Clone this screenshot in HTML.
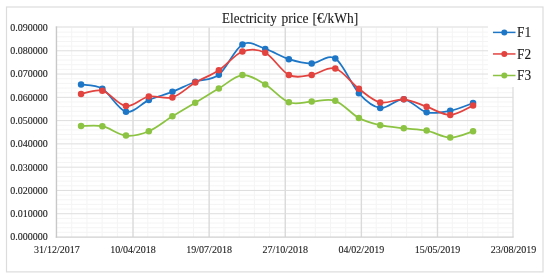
<!DOCTYPE html><html><head><meta charset="utf-8"><style>html,body{margin:0;padding:0;background:#fff;width:550px;height:279px;overflow:hidden}svg{display:block;filter:blur(0.3px)}</style></head><body><svg width="550" height="279" viewBox="0 0 550 279">
<rect width="550" height="279" fill="#fff"/>
<rect x="6.5" y="7.0" width="536.5" height="264.9" fill="none" stroke="#dcdcdc" stroke-width="1.2"/>
<path d="M71.72 27.5V237.0M86.95 27.5V237.0M102.17 27.5V237.0M117.39 27.5V237.0M147.84 27.5V237.0M163.06 27.5V237.0M178.29 27.5V237.0M193.51 27.5V237.0M223.96 27.5V237.0M239.18 27.5V237.0M254.40 27.5V237.0M269.63 27.5V237.0M300.07 27.5V237.0M315.30 27.5V237.0M330.52 27.5V237.0M345.74 27.5V237.0M376.19 27.5V237.0M391.41 27.5V237.0M406.64 27.5V237.0M421.86 27.5V237.0M452.31 27.5V237.0M467.53 27.5V237.0M482.75 27.5V237.0M497.98 27.5V237.0M56.5 232.34H513.2M56.5 227.69H513.2M56.5 223.03H513.2M56.5 218.38H513.2M56.5 209.07H513.2M56.5 204.41H513.2M56.5 199.76H513.2M56.5 195.10H513.2M56.5 185.79H513.2M56.5 181.13H513.2M56.5 176.48H513.2M56.5 171.82H513.2M56.5 162.51H513.2M56.5 157.86H513.2M56.5 153.20H513.2M56.5 148.54H513.2M56.5 139.23H513.2M56.5 134.58H513.2M56.5 129.92H513.2M56.5 125.27H513.2M56.5 115.96H513.2M56.5 111.30H513.2M56.5 106.64H513.2M56.5 101.99H513.2M56.5 92.68H513.2M56.5 88.02H513.2M56.5 83.37H513.2M56.5 78.71H513.2M56.5 69.40H513.2M56.5 64.74H513.2M56.5 60.09H513.2M56.5 55.43H513.2M56.5 46.12H513.2M56.5 41.47H513.2M56.5 36.81H513.2M56.5 32.16H513.2" stroke="#f4f4f4" stroke-width="1" fill="none"/>
<path d="M133.02 27.5V237.0M209.13 27.5V237.0M285.25 27.5V237.0M361.37 27.5V237.0M437.48 27.5V237.0" stroke="#dadada" stroke-width="1.4" fill="none"/>
<path d="M56.5 213.72H513.2M56.5 190.44H513.2M56.5 167.17H513.2M56.5 143.89H513.2M56.5 120.61H513.2M56.5 97.33H513.2M56.5 74.06H513.2M56.5 50.78H513.2" stroke="#dedede" stroke-width="1" fill="none"/>
<path d="M55.75 27.0H513.7" stroke="#dcdcdc" stroke-width="1.2" fill="none"/>
<path d="M513.0 27.0V237.1" stroke="#dedede" stroke-width="1.3" fill="none"/>
<path d="M55.75 237.1H513.7" stroke="#d0d0d0" stroke-width="1.2" fill="none"/>
<path d="M56.45 26.4V237.7" stroke="#c8c8c8" stroke-width="1.4" fill="none"/>
<rect x="488" y="20" width="40" height="67.0" fill="#fff"/>
<path d="M81.06 84.50C84.61 85.22 94.89 84.27 102.37 88.80C109.85 93.33 118.23 109.82 125.97 111.70C133.70 113.58 141.06 103.42 148.80 100.10C156.54 96.78 164.66 94.87 172.40 91.80C180.14 88.73 187.49 84.55 195.23 81.70C202.97 78.85 210.96 80.92 218.83 74.70C226.69 68.48 234.69 48.70 242.42 44.40C250.16 40.10 257.52 46.43 265.26 48.90C273.00 51.37 281.12 56.77 288.86 59.20C296.59 61.63 303.95 63.62 311.69 63.50C319.43 63.38 327.42 53.53 335.29 58.50C343.15 63.47 351.40 85.07 358.88 93.30C366.37 101.53 372.71 106.90 380.20 107.90C387.68 108.90 396.05 98.57 403.79 99.30C411.53 100.03 418.89 110.38 426.63 112.30C434.37 114.22 442.48 112.33 450.22 110.80C457.96 109.27 469.25 104.38 473.06 103.10" stroke="#1d76c6" stroke-width="1.75" fill="none" stroke-linejoin="round" stroke-linecap="round"/>
<circle cx="81.06" cy="84.50" r="3.25" fill="#1d76c6"/>
<circle cx="102.37" cy="88.80" r="3.25" fill="#1d76c6"/>
<circle cx="125.97" cy="111.70" r="3.25" fill="#1d76c6"/>
<circle cx="148.80" cy="100.10" r="3.25" fill="#1d76c6"/>
<circle cx="172.40" cy="91.80" r="3.25" fill="#1d76c6"/>
<circle cx="195.23" cy="81.70" r="3.25" fill="#1d76c6"/>
<circle cx="218.83" cy="74.70" r="3.25" fill="#1d76c6"/>
<circle cx="242.42" cy="44.40" r="3.25" fill="#1d76c6"/>
<circle cx="265.26" cy="48.90" r="3.25" fill="#1d76c6"/>
<circle cx="288.86" cy="59.20" r="3.25" fill="#1d76c6"/>
<circle cx="311.69" cy="63.50" r="3.25" fill="#1d76c6"/>
<circle cx="335.29" cy="58.50" r="3.25" fill="#1d76c6"/>
<circle cx="358.88" cy="93.30" r="3.25" fill="#1d76c6"/>
<circle cx="380.20" cy="107.90" r="3.25" fill="#1d76c6"/>
<circle cx="403.79" cy="99.30" r="3.25" fill="#1d76c6"/>
<circle cx="426.63" cy="112.30" r="3.25" fill="#1d76c6"/>
<circle cx="450.22" cy="110.80" r="3.25" fill="#1d76c6"/>
<circle cx="473.06" cy="103.10" r="3.25" fill="#1d76c6"/>
<path d="M81.06 93.90C84.61 93.37 94.89 88.67 102.37 90.70C109.85 92.73 118.23 105.13 125.97 106.10C133.70 107.07 141.06 97.95 148.80 96.50C156.54 95.05 164.66 99.72 172.40 97.40C180.14 95.08 187.49 87.12 195.23 82.60C202.97 78.08 210.96 75.48 218.83 70.30C226.69 65.12 234.69 54.42 242.42 51.50C250.16 48.58 257.52 48.90 265.26 52.80C273.00 56.70 281.12 71.22 288.86 74.90C296.59 78.58 303.95 75.97 311.69 74.90C319.43 73.83 327.42 66.18 335.29 68.50C343.15 70.82 351.40 83.15 358.88 88.80C366.37 94.45 372.71 100.65 380.20 102.40C387.68 104.15 396.05 98.58 403.79 99.30C411.53 100.02 418.89 104.10 426.63 106.70C434.37 109.30 442.48 115.08 450.22 114.90C457.96 114.72 469.25 107.15 473.06 105.60" stroke="#e2433f" stroke-width="1.75" fill="none" stroke-linejoin="round" stroke-linecap="round"/>
<circle cx="81.06" cy="93.90" r="3.25" fill="#e2433f"/>
<circle cx="102.37" cy="90.70" r="3.25" fill="#e2433f"/>
<circle cx="125.97" cy="106.10" r="3.25" fill="#e2433f"/>
<circle cx="148.80" cy="96.50" r="3.25" fill="#e2433f"/>
<circle cx="172.40" cy="97.40" r="3.25" fill="#e2433f"/>
<circle cx="195.23" cy="82.60" r="3.25" fill="#e2433f"/>
<circle cx="218.83" cy="70.30" r="3.25" fill="#e2433f"/>
<circle cx="242.42" cy="51.50" r="3.25" fill="#e2433f"/>
<circle cx="265.26" cy="52.80" r="3.25" fill="#e2433f"/>
<circle cx="288.86" cy="74.90" r="3.25" fill="#e2433f"/>
<circle cx="311.69" cy="74.90" r="3.25" fill="#e2433f"/>
<circle cx="335.29" cy="68.50" r="3.25" fill="#e2433f"/>
<circle cx="358.88" cy="88.80" r="3.25" fill="#e2433f"/>
<circle cx="380.20" cy="102.40" r="3.25" fill="#e2433f"/>
<circle cx="403.79" cy="99.30" r="3.25" fill="#e2433f"/>
<circle cx="426.63" cy="106.70" r="3.25" fill="#e2433f"/>
<circle cx="450.22" cy="114.90" r="3.25" fill="#e2433f"/>
<circle cx="473.06" cy="105.60" r="3.25" fill="#e2433f"/>
<path d="M81.06 126.10C84.61 126.12 94.89 124.62 102.37 126.20C109.85 127.78 118.23 134.75 125.97 135.60C133.70 136.45 141.06 134.52 148.80 131.30C156.54 128.08 164.66 121.07 172.40 116.30C180.14 111.53 187.49 107.33 195.23 102.70C202.97 98.07 210.96 93.10 218.83 88.50C226.69 83.90 234.69 75.77 242.42 75.10C250.16 74.43 257.52 79.97 265.26 84.50C273.00 89.03 281.12 99.45 288.86 102.30C296.59 105.15 303.95 101.85 311.69 101.60C319.43 101.35 327.42 98.05 335.29 100.80C343.15 103.55 351.40 114.03 358.88 118.10C366.37 122.17 372.71 123.50 380.20 125.20C387.68 126.90 396.05 127.40 403.79 128.30C411.53 129.20 418.89 129.05 426.63 130.60C434.37 132.15 442.48 137.48 450.22 137.60C457.96 137.72 469.25 132.35 473.06 131.30" stroke="#8cc342" stroke-width="1.75" fill="none" stroke-linejoin="round" stroke-linecap="round"/>
<circle cx="81.06" cy="126.10" r="3.25" fill="#8cc342"/>
<circle cx="102.37" cy="126.20" r="3.25" fill="#8cc342"/>
<circle cx="125.97" cy="135.60" r="3.25" fill="#8cc342"/>
<circle cx="148.80" cy="131.30" r="3.25" fill="#8cc342"/>
<circle cx="172.40" cy="116.30" r="3.25" fill="#8cc342"/>
<circle cx="195.23" cy="102.70" r="3.25" fill="#8cc342"/>
<circle cx="218.83" cy="88.50" r="3.25" fill="#8cc342"/>
<circle cx="242.42" cy="75.10" r="3.25" fill="#8cc342"/>
<circle cx="265.26" cy="84.50" r="3.25" fill="#8cc342"/>
<circle cx="288.86" cy="102.30" r="3.25" fill="#8cc342"/>
<circle cx="311.69" cy="101.60" r="3.25" fill="#8cc342"/>
<circle cx="335.29" cy="100.80" r="3.25" fill="#8cc342"/>
<circle cx="358.88" cy="118.10" r="3.25" fill="#8cc342"/>
<circle cx="380.20" cy="125.20" r="3.25" fill="#8cc342"/>
<circle cx="403.79" cy="128.30" r="3.25" fill="#8cc342"/>
<circle cx="426.63" cy="130.60" r="3.25" fill="#8cc342"/>
<circle cx="450.22" cy="137.60" r="3.25" fill="#8cc342"/>
<circle cx="473.06" cy="131.30" r="3.25" fill="#8cc342"/>
<text x="47.8" y="240.40" text-anchor="end" font-size="10" font-family="'Liberation Serif', serif" fill="#1a1a1a" stroke="#1a1a1a" stroke-width="0.1">0.000000</text>
<text x="47.8" y="217.12" text-anchor="end" font-size="10" font-family="'Liberation Serif', serif" fill="#1a1a1a" stroke="#1a1a1a" stroke-width="0.1">0.010000</text>
<text x="47.8" y="193.84" text-anchor="end" font-size="10" font-family="'Liberation Serif', serif" fill="#1a1a1a" stroke="#1a1a1a" stroke-width="0.1">0.020000</text>
<text x="47.8" y="170.57" text-anchor="end" font-size="10" font-family="'Liberation Serif', serif" fill="#1a1a1a" stroke="#1a1a1a" stroke-width="0.1">0.030000</text>
<text x="47.8" y="147.29" text-anchor="end" font-size="10" font-family="'Liberation Serif', serif" fill="#1a1a1a" stroke="#1a1a1a" stroke-width="0.1">0.040000</text>
<text x="47.8" y="124.01" text-anchor="end" font-size="10" font-family="'Liberation Serif', serif" fill="#1a1a1a" stroke="#1a1a1a" stroke-width="0.1">0.050000</text>
<text x="47.8" y="100.73" text-anchor="end" font-size="10" font-family="'Liberation Serif', serif" fill="#1a1a1a" stroke="#1a1a1a" stroke-width="0.1">0.060000</text>
<text x="47.8" y="77.46" text-anchor="end" font-size="10" font-family="'Liberation Serif', serif" fill="#1a1a1a" stroke="#1a1a1a" stroke-width="0.1">0.070000</text>
<text x="47.8" y="54.18" text-anchor="end" font-size="10" font-family="'Liberation Serif', serif" fill="#1a1a1a" stroke="#1a1a1a" stroke-width="0.1">0.080000</text>
<text x="47.8" y="30.90" text-anchor="end" font-size="10" font-family="'Liberation Serif', serif" fill="#1a1a1a" stroke="#1a1a1a" stroke-width="0.1">0.090000</text>
<text x="56.90" y="252.6" text-anchor="middle" font-size="10" font-family="'Liberation Serif', serif" fill="#1a1a1a" stroke="#1a1a1a" stroke-width="0.1">31/12/2017</text>
<text x="133.02" y="252.6" text-anchor="middle" font-size="10" font-family="'Liberation Serif', serif" fill="#1a1a1a" stroke="#1a1a1a" stroke-width="0.1">10/04/2018</text>
<text x="209.13" y="252.6" text-anchor="middle" font-size="10" font-family="'Liberation Serif', serif" fill="#1a1a1a" stroke="#1a1a1a" stroke-width="0.1">19/07/2018</text>
<text x="285.25" y="252.6" text-anchor="middle" font-size="10" font-family="'Liberation Serif', serif" fill="#1a1a1a" stroke="#1a1a1a" stroke-width="0.1">27/10/2018</text>
<text x="361.37" y="252.6" text-anchor="middle" font-size="10" font-family="'Liberation Serif', serif" fill="#1a1a1a" stroke="#1a1a1a" stroke-width="0.1">04/02/2019</text>
<text x="437.48" y="252.6" text-anchor="middle" font-size="10" font-family="'Liberation Serif', serif" fill="#1a1a1a" stroke="#1a1a1a" stroke-width="0.1">15/05/2019</text>
<text x="513.60" y="252.6" text-anchor="middle" font-size="10" font-family="'Liberation Serif', serif" fill="#1a1a1a" stroke="#1a1a1a" stroke-width="0.1">23/08/2019</text>
<g transform="translate(0 23.3) scale(0.944 1)"><text y="0" font-size="14.3" font-family="'Liberation Serif', serif" fill="#1a1a1a" stroke="#1a1a1a" stroke-width="0.1"><tspan x="235.28" textLength="57.9" lengthAdjust="spacingAndGlyphs">Electricity</tspan><tspan x="298.20">price</tspan><tspan x="331.14">[€/kWh]</tspan></text></g>
<path d="M493 32.40H515.5" stroke="#1d76c6" stroke-width="1.5" fill="none"/>
<circle cx="504.3" cy="32.40" r="3.0" fill="#1d76c6"/>
<g transform="translate(517.0 37.10) scale(0.98 1)"><text x="0" y="0" font-size="13.6" font-family="'Liberation Serif', serif" fill="#1a1a1a" stroke="#1a1a1a" stroke-width="0.1">F1</text></g>
<path d="M493 53.95H515.5" stroke="#e2433f" stroke-width="1.5" fill="none"/>
<circle cx="504.3" cy="53.95" r="3.0" fill="#e2433f"/>
<g transform="translate(517.0 58.65) scale(0.98 1)"><text x="0" y="0" font-size="13.6" font-family="'Liberation Serif', serif" fill="#1a1a1a" stroke="#1a1a1a" stroke-width="0.1">F2</text></g>
<path d="M493 75.50H515.5" stroke="#8cc342" stroke-width="1.5" fill="none"/>
<circle cx="504.3" cy="75.50" r="3.0" fill="#8cc342"/>
<g transform="translate(517.0 80.20) scale(0.98 1)"><text x="0" y="0" font-size="13.6" font-family="'Liberation Serif', serif" fill="#1a1a1a" stroke="#1a1a1a" stroke-width="0.1">F3</text></g>
</svg></body></html>
